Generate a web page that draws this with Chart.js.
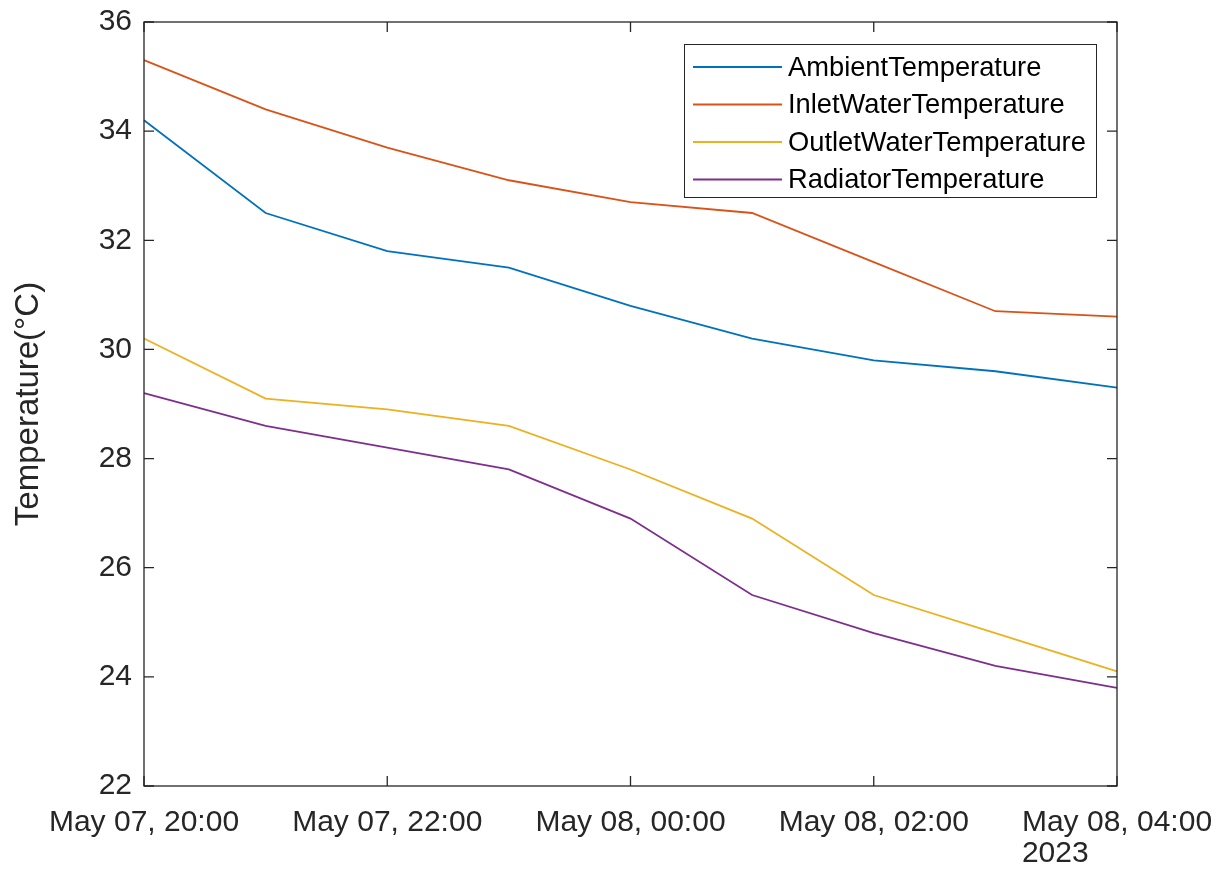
<!DOCTYPE html>
<html>
<head>
<meta charset="utf-8">
<script src="https://cdn.jsdelivr.net/npm/chart.js@4/dist/chart.umd.min.js"></script>
<style>
  html, body { margin: 0; padding: 0; background: #ffffff; }
  #wrap { width: 1223px; height: 876px; position: relative; }
</style>
</head>
<body>
<div id="wrap"><canvas id="c" width="1223" height="876"></canvas></div>
<script>
// ---- data ----
const timeLabels = [
  "May 07, 20:00", "May 07, 21:00", "May 07, 22:00", "May 07, 23:00",
  "May 08, 00:00", "May 08, 01:00", "May 08, 02:00", "May 08, 03:00", "May 08, 04:00"
];
const yearLabel = "2023";
const ambientTemperature     = [34.2, 32.5, 31.8, 31.5, 30.8, 30.2, 29.8, 29.6, 29.3];
const inletWaterTemperature  = [35.3, 34.4, 33.7, 33.1, 32.7, 32.5, 31.6, 30.7, 30.6];
const outletWaterTemperature = [30.2, 29.1, 28.9, 28.6, 27.8, 26.9, 25.5, 24.8, 24.1];
const radiatorTemperature    = [29.2, 28.6, 28.2, 27.8, 26.9, 25.5, 24.8, 24.2, 23.8];
const seriesNames = ["AmbientTemperature", "InletWaterTemperature", "OutletWaterTemperature", "RadiatorTemperature"];
const yTitle = "Temperature(\u00B0C)";

const FONT = "'Liberation Sans', Arial, Helvetica, sans-serif";
const AX = "#262626";
const TICK_SIZE = 30;

const boxPlugin = {
  id: 'matlabBox',
  afterDraw(chart) {
    const ctx = chart.ctx;
    const a = chart.chartArea;
    const xs = chart.scales.x, ys = chart.scales.y;
    ctx.save();
    ctx.strokeStyle = AX;
    ctx.lineWidth = 1.3;
    ctx.strokeRect(a.left, a.top, a.right - a.left, a.bottom - a.top);
    const tl = 10;
    ctx.beginPath();
    xs.ticks.forEach(t => {
      if (t.value % 2 !== 0) return;
      const px = xs.getPixelForValue(t.value);
      ctx.moveTo(px, a.bottom); ctx.lineTo(px, a.bottom - tl);
      ctx.moveTo(px, a.top); ctx.lineTo(px, a.top + tl);
    });
    ys.ticks.forEach(t => {
      const py = ys.getPixelForValue(t.value);
      ctx.moveTo(a.left, py); ctx.lineTo(a.left + tl, py);
      ctx.moveTo(a.right, py); ctx.lineTo(a.right - tl, py);
    });
    ctx.stroke();

    // year label under last tick label
    ctx.font = TICK_SIZE + "px " + FONT;
    ctx.fillStyle = AX;
    const lastIdx = timeLabels.length - 1;
    const lastPx = xs.getPixelForValue(lastIdx);
    const w = ctx.measureText(timeLabels[lastIdx]).width;
    ctx.textAlign = 'left';
    ctx.textBaseline = 'middle';
    ctx.fillText(yearLabel, lastPx - w / 2, 854);

    // legend
    const L = { x: 684, y: 44, w: 412, h: 153 };
    ctx.fillStyle = '#ffffff';
    ctx.fillRect(L.x, L.y, L.w, L.h);
    ctx.lineWidth = 1;
    ctx.strokeStyle = AX;
    ctx.strokeRect(L.x + 0.5, L.y + 0.5, L.w, L.h);
    ctx.font = "27.3px " + FONT;
    ctx.textBaseline = 'middle';
    chart.data.datasets.forEach((ds, i) => {
      const yy = 67 + i * 37.5;
      ctx.strokeStyle = ds.borderColor;
      ctx.lineWidth = 1.8;
      ctx.beginPath();
      ctx.moveTo(693, yy); ctx.lineTo(782, yy);
      ctx.stroke();
      ctx.fillStyle = '#000000';
      ctx.fillText(ds.label, 788, yy + 1);
    });
    ctx.restore();
  }
};

const colors = ["#0072BD", "#D95319", "#EDB120", "#7E2F8E"];
const seriesData = [ambientTemperature, inletWaterTemperature, outletWaterTemperature, radiatorTemperature];

new Chart(document.getElementById('c'), {
  type: 'line',
  data: {
    labels: timeLabels,
    datasets: seriesNames.map((n, i) => ({
      label: n,
      data: seriesData[i],
      borderColor: colors[i],
      backgroundColor: colors[i],
      borderWidth: 1.8,
      pointRadius: 0,
      tension: 0,
      fill: false
    }))
  },
  options: {
    responsive: false,
    animation: false,
    layout: { padding: { left: 0, right: 106, top: 22, bottom: 0 } },
    plugins: { legend: { display: false }, tooltip: { enabled: false } },
    scales: {
      x: {
        type: 'category',
        offset: false,
        grid: { display: false, drawTicks: false },
        border: { display: false },
        ticks: {
          autoSkip: false,
          maxRotation: 0,
          minRotation: 0,
          padding: 19,
          color: AX,
          font: { family: FONT, size: TICK_SIZE },
          callback: function(v, i) { return i % 2 === 0 ? timeLabels[i] : ''; }
        },
        afterFit: s => { s.height = 90; s.paddingLeft = 0; s.paddingRight = 0; }
      },
      y: {
        min: 22, max: 36,
        grid: { display: false, drawTicks: false },
        border: { display: false },
        ticks: { stepSize: 2, padding: 12, color: AX, font: { family: FONT, size: TICK_SIZE } },
        title: {
          display: true, text: yTitle, color: AX,
          font: { family: FONT, size: 33 },
          padding: { top: 9, bottom: 0 }
        },
        afterFit: s => { s.width = 144; s.paddingTop = 0; s.paddingBottom = 0; }
      }
    }
  },
  plugins: [boxPlugin]
});
</script>
</body>
</html>
